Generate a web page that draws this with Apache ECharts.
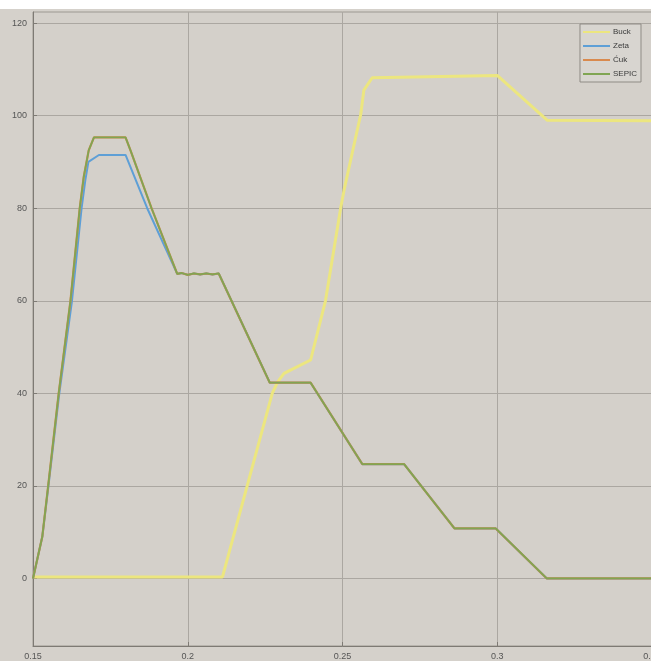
<!DOCTYPE html>
<html>
<head>
<meta charset="utf-8">
<script src="https://cdn.jsdelivr.net/npm/echarts@6/dist/echarts.min.js"></script>
<style>
  html, body { margin: 0; padding: 0; background: #d5d1cb; }
  #chart { width: 651px; height: 661px; }
</style>
</head>
<body>
<div id="chart"></div>
<script>
// values: [time, value]
const buck = [
  [0.15, 0.3], [0.2112, 0.3], [0.2192, 20], [0.2273, 40], [0.229, 42.4], [0.2311, 44.3],
  [0.2397, 47.2], [0.2445, 60], [0.2494, 80], [0.2505, 83.9], [0.2559, 100.3],
  [0.2569, 105.5], [0.2596, 108.2], [0.3, 108.7], [0.3162, 99], [0.35, 98.9]
];
const zeta = [
  [0.15, 0], [0.153, 9], [0.155, 20], [0.1585, 40], [0.1626, 60], [0.1657, 80],
  [0.1669, 86], [0.1679, 90], [0.1713, 91.5], [0.1799, 91.5], [0.1869, 80],
  [0.1966, 65.8], [0.198, 66.0], [0.2, 65.6], [0.202, 65.9], [0.204, 65.7],
  [0.206, 65.9], [0.208, 65.7], [0.21, 65.9], [0.2265, 42.3], [0.2397, 42.3],
  [0.2564, 24.7], [0.2699, 24.7], [0.2862, 10.8], [0.2995, 10.8], [0.316, 0], [0.35, 0]
];
const cuk = [
  [0.15, 0], [0.153, 9], [0.1549, 20], [0.1583, 40], [0.1621, 60], [0.1651, 80],
  [0.1664, 86.8], [0.168, 92.5], [0.1697, 95.3], [0.1799, 95.3], [0.1815, 92.5],
  [0.1883, 80], [0.1966, 65.8], [0.198, 66.0], [0.2, 65.6], [0.202, 65.9], [0.204, 65.7],
  [0.206, 65.9], [0.208, 65.7], [0.21, 65.9], [0.2265, 42.3], [0.2397, 42.3],
  [0.2564, 24.7], [0.2699, 24.7], [0.2862, 10.8], [0.2995, 10.8], [0.316, 0], [0.35, 0]
];
const sepic = cuk.map(p => p.slice());

const yTicks = [0, 20, 40, 60, 80, 100, 120];
const xTickLabels = { '0.15': '0.15', '0.2': '0.2', '0.25': '0.25', '0.3': '0.3', '0.35': '0.35' };

const chart = echarts.init(document.getElementById('chart'));

const lineSeries = (name, data, color, width) => ({
  name: name,
  type: 'line',
  data: data,
  showSymbol: false,
  symbol: 'none',
  animation: false,
  lineStyle: { color: color, width: width },
  itemStyle: { color: color }
});

chart.setOption({
  backgroundColor: '#d5d1cb',
  animation: false,
  graphic: [{
    type: 'rect', left: 0, top: 0, z: -1,
    shape: { width: 651, height: 9 },
    style: { fill: '#ffffff' }
  }],
  grid: {
    left: 33, right: -1, top: 12, bottom: 15,
    containLabel: false, outerBoundsMode: 'none',
    show: true, backgroundColor: '#d4d0ca', borderColor: '#9c9891', borderWidth: 1
  },
  legend: {
    right: 10, top: 24,
    orient: 'vertical',
    icon: 'rect',
    itemWidth: 27, itemHeight: 2, itemGap: 4,
    padding: [3, 4, 3, 3],
    backgroundColor: '#d8d5d0',
    borderColor: '#8f8b85', borderWidth: 1,
    textStyle: { fontFamily: 'Liberation Sans', fontSize: 8, color: '#3a3a3a', lineHeight: 10, padding: [0, 0, 0, -2] },
    data: ['Buck', 'Zeta', 'Ćuk', 'SEPIC']
  },
  xAxis: {
    type: 'value', min: 0.15, max: 0.35, interval: 0.05,
    axisLine: { show: true, onZero: false, lineStyle: { color: '#7e7a74' } },
    axisTick: { show: true, inside: true, length: 4, lineStyle: { color: '#7e7a74' } },
    splitLine: { show: true, lineStyle: { color: '#aba7a1', width: 1 } },
    axisLabel: {
      fontFamily: 'Liberation Sans', fontSize: 9, color: '#555', margin: 6,
      formatter: v => xTickLabels[String(+v.toFixed(2))] || ''
    }
  },
  yAxis: {
    type: 'value', min: -14.6, max: 122.4,
    axisLine: { show: true, onZero: false, lineStyle: { color: '#7e7a74' } },
    axisTick: { show: true, inside: true, length: 4, customValues: yTicks, lineStyle: { color: '#7e7a74' } },
    splitLine: { show: true, lineStyle: { color: '#aba7a1', width: 1 } },
    axisLabel: {
      customValues: yTicks,
      fontFamily: 'Liberation Sans', fontSize: 9, color: '#555', margin: 6
    }
  },
  series: [
    lineSeries('Buck', buck, '#ece67f', 3),
    lineSeries('Zeta', zeta, '#5e9fd6', 2),
    lineSeries('Ćuk', cuk, '#d98a4e', 2.2),
    lineSeries('SEPIC', sepic, '#80a553', 1.8)
  ]
});
</script>
</body>
</html>
